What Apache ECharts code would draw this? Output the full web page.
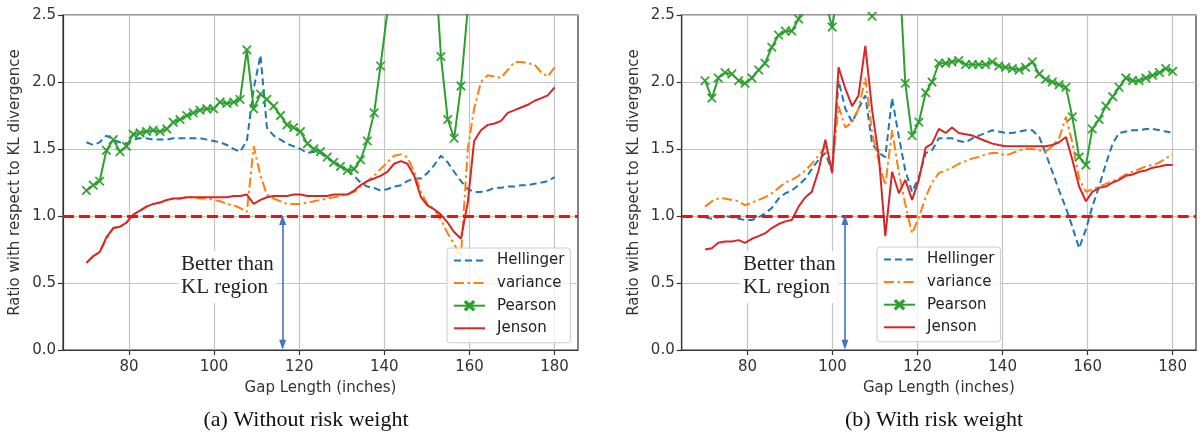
<!DOCTYPE html>
<html><head><meta charset="utf-8">
<script src="https://cdn.jsdelivr.net/npm/echarts@6/dist/echarts.min.js"></script>
<style>html,body{margin:0;padding:0;background:#fff}#c{width:1202px;height:433px}</style>
</head><body><div id="c"></div><script>
// Gap lengths (inches)
const xs = [70,71.6,73.1,74.7,76.3,77.9,79.4,81,82.6,84.1,85.7,87.3,88.9,90.4,92,93.6,95.1,96.7,98.3,99.9,
101.4,103,104.6,106.1,107.7,109.3,110.9,112.4,114,115.6,117.1,118.7,120.3,121.9,123.4,125,126.6,128.1,129.7,131.3,
132.9,134.4,136,137.6,139.1,140.7,142.3,143.9,145.4,147,148.6,150.1,151.7,153.3,154.9,156.4,158,159.6,161.1,162.7,
164.3,165.9,167.4,169,170.6,172.1,173.7,175.3,176.9,178.4,180];

// (a) Without risk weight
const hellA = [1.55,1.53,1.55,1.60,1.57,1.55,1.54,1.57,1.58,1.58,1.57,1.57,1.57,1.58,1.58,1.58,1.58,1.58,1.57,1.56,
1.55,1.53,1.50,1.48,1.56,1.95,2.20,1.66,1.60,1.57,1.54,1.52,1.50,1.47,1.48,1.47,1.43,1.40,1.37,1.34,
1.30,1.25,1.22,1.21,1.19,1.20,1.22,1.23,1.26,1.28,1.28,1.32,1.38,1.45,1.40,1.33,1.26,1.20,1.18,1.18,
1.19,1.21,1.21,1.22,1.22,1.23,1.23,1.24,1.25,1.26,1.29];
const varA = [0.65,0.70,0.73,0.83,0.91,0.92,0.95,1.01,1.04,1.07,1.09,1.10,1.12,1.13,1.13,1.14,1.14,1.13,1.13,1.12,
1.11,1.09,1.08,1.06,1.03,1.52,1.30,1.16,1.13,1.11,1.09,1.09,1.09,1.10,1.11,1.12,1.13,1.14,1.15,1.16,
1.18,1.22,1.26,1.30,1.35,1.40,1.45,1.46,1.44,1.33,1.18,1.09,1.05,0.97,0.87,0.79,0.70,1.50,1.80,2.00,
2.05,2.04,2.03,2.09,2.15,2.15,2.14,2.13,2.07,2.04,2.11];
const pearA = [1.19,1.23,1.26,1.49,1.57,1.48,1.52,1.61,1.62,1.63,1.64,1.63,1.65,1.70,1.72,1.75,1.77,1.79,1.80,1.80,
1.85,1.84,1.85,1.87,2.24,1.80,1.91,1.87,1.82,1.75,1.68,1.66,1.63,1.54,1.50,1.48,1.44,1.40,1.37,1.34,
1.35,1.42,1.56,1.77,2.12,2.52,3.0,3.3,3.5,3.6,3.5,3.3,3.0,2.19,1.72,1.58,1.97,2.55,3.0,3.2,
3.3,3.3,3.4,3.4,3.4,3.5,3.5,3.5,3.5,3.5,3.5];
const jenA = [0.65,0.70,0.73,0.84,0.91,0.92,0.95,1.01,1.04,1.07,1.09,1.10,1.12,1.13,1.13,1.14,1.14,1.14,1.14,1.14,
1.14,1.14,1.15,1.15,1.16,1.09,1.12,1.14,1.15,1.15,1.15,1.16,1.16,1.15,1.15,1.15,1.15,1.16,1.16,1.16,
1.19,1.23,1.26,1.28,1.30,1.33,1.39,1.41,1.39,1.30,1.14,1.08,1.05,1.01,0.95,0.88,0.83,1.10,1.56,1.64,
1.68,1.69,1.71,1.77,1.79,1.81,1.83,1.86,1.88,1.90,1.96];

// (b) With risk weight
const hellB = [0.99,0.98,0.99,1.00,0.99,0.98,0.97,0.97,0.99,1.02,1.06,1.13,1.17,1.19,1.23,1.28,1.35,1.42,1.47,1.33,
2.01,1.80,1.70,1.80,1.90,1.54,1.47,1.44,1.88,1.59,1.34,1.18,1.29,1.47,1.49,1.58,1.58,1.58,1.56,1.55,
1.58,1.60,1.62,1.64,1.63,1.62,1.62,1.63,1.64,1.64,1.59,1.47,1.33,1.19,1.06,0.92,0.76,0.90,1.07,1.22,
1.39,1.54,1.62,1.63,1.64,1.64,1.65,1.65,1.64,1.63,1.62];
const varB = [1.07,1.11,1.13,1.13,1.12,1.11,1.08,1.10,1.12,1.14,1.17,1.21,1.25,1.27,1.30,1.34,1.39,1.45,1.52,1.34,
1.82,1.66,1.70,1.80,2.03,1.62,1.40,1.23,1.64,1.32,1.09,0.87,0.99,1.14,1.25,1.32,1.34,1.36,1.39,1.41,
1.43,1.44,1.46,1.47,1.47,1.45,1.47,1.49,1.50,1.50,1.49,1.48,1.52,1.58,1.74,1.55,1.28,1.18,1.20,1.22,
1.24,1.26,1.28,1.31,1.33,1.35,1.37,1.38,1.40,1.43,1.46];
const pearB = [2.01,1.88,2.03,2.07,2.06,2.01,1.99,2.03,2.09,2.14,2.26,2.35,2.38,2.38,2.47,2.6,2.7,2.7,2.6,2.41,
2.7,2.9,3.0,2.9,2.7,2.49,2.8,3.0,3.0,2.9,1.99,1.60,1.70,1.92,2.00,2.14,2.14,2.15,2.16,2.13,
2.13,2.13,2.13,2.15,2.12,2.11,2.10,2.09,2.11,2.15,2.06,2.02,2.00,1.98,1.96,1.74,1.44,1.38,1.65,1.72,
1.82,1.89,1.96,2.03,2.01,2.01,2.03,2.05,2.07,2.10,2.08];
const jenB = [0.75,0.76,0.80,0.81,0.81,0.82,0.80,0.83,0.85,0.87,0.91,0.94,0.96,0.97,1.07,1.14,1.18,1.34,1.57,1.32,
2.11,1.95,1.82,1.90,2.27,1.79,1.44,0.85,1.33,1.17,1.27,1.12,1.27,1.51,1.54,1.65,1.62,1.66,1.62,1.61,
1.60,1.58,1.56,1.54,1.53,1.52,1.52,1.52,1.52,1.52,1.52,1.52,1.53,1.55,1.59,1.42,1.22,1.11,1.18,1.21,
1.22,1.25,1.27,1.30,1.31,1.33,1.34,1.36,1.37,1.38,1.38];

const xTicks = [80,100,120,140,160,180];
const names = ['Hellinger','variance','Pearson','Jenson'];
const klLevel = 1.0;
const arrowA = {x:116.1, top:0.97, bottom:0.04};
const arrowB = {x:102.9, top:0.97, bottom:0.04};
const captions = ['(a) Without risk weight','(b) With risk weight'];
const noteText = 'Better than\nKL region';

const styles = {
  Hellinger:{color:'#1f77b4', type:[7,4], width:2},
  variance:{color:'#ff7f0e', type:[10,3.5,2.5,3.5], width:2},
  Pearson:{color:'#2ca02c', type:'solid', width:2},
  Jenson:{color:'#d62728', type:'solid', width:2}
};
const xSym = 'path://M1,0 L5,4 L9,0 L10,1 L6,5 L10,9 L9,10 L5,6 L1,10 L0,9 L4,5 L0,1 Z';
const FONT = 'DejaVu Sans';

function mkSeries(name, arr, gi, arrow){
  const st = styles[name];
  const s = {
    name, type:'line', xAxisIndex:gi, yAxisIndex:gi,
    data: xs.map((x,i)=>[x, arr[i]]),
    lineStyle:{color:st.color, type:st.type, width:st.width},
    itemStyle:{color:st.color, borderColor:st.color, borderWidth:0.6},
    symbol: name==='Pearson' ? xSym : 'none',
    symbolSize: 9, showSymbol: name==='Pearson',
    clip:true, animation:false, silent:true, z:2
  };
  if(name==='Jenson'){
    s.markLine = {
      silent:true, animation:false, symbol:['none','none'], label:{show:false},
      data:[
        {yAxis:klLevel, lineStyle:{color:'#f01010', type:[11,5], width:3}},
        [{coord:[arrow.x, arrow.top], symbol:'triangle', symbolSize:[7,10], lineStyle:{color:'#4472c4', type:'solid', width:1.6}},
         {coord:[arrow.x, arrow.bottom], symbol:'triangle', symbolSize:[7,10]}]
      ]
    };
  }
  return s;
}

function axisX(gi){
  return {
    type:'value', gridIndex:gi, min:64.5, max:185.5,
    name:'Gap Length (inches)', nameLocation:'middle', nameGap:31,
    nameTextStyle:{fontFamily:FONT, fontSize:15, color:'#333'},
    axisLine:{show:true, lineStyle:{color:'#333', width:1.2}},
    axisTick:{show:true, customValues:xTicks, length:5, lineStyle:{color:'#333', width:1.2}},
    axisLabel:{customValues:xTicks, margin:10, fontFamily:FONT, fontSize:15, color:'#333'},
    splitLine:{show:true, lineStyle:{color:'#c4c4c4', width:1.2}}
  };
}
function axisY(gi){
  return {
    type:'value', gridIndex:gi, min:0, max:2.5, interval:0.5,
    name:'Ratio with respect to KL divergence', nameLocation:'middle', nameGap:40,
    nameTextStyle:{fontFamily:FONT, fontSize:15, color:'#333'},
    axisLine:{show:true, lineStyle:{color:'#333', width:1.2}},
    axisTick:{show:true, length:5, lineStyle:{color:'#333', width:1.2}},
    axisLabel:{margin:7, fontFamily:FONT, fontSize:15, color:'#333', formatter:v=>v.toFixed(1)},
    splitLine:{show:true, lineStyle:{color:'#c4c4c4', width:1.2}}
  };
}
function legend(left, top){
  return {
    data:names.map(n => n==='Pearson' ? {name:n} : {name:n, itemStyle:{opacity:0}}),
    orient:'vertical', left, top, padding:[5,6,7,6],
    itemWidth:31, itemHeight:11, itemGap:7.6,
    backgroundColor:'rgba(255,255,255,0.8)', borderColor:'#cccccc', borderWidth:1, borderRadius:3,
    textStyle:{fontFamily:FONT, fontSize:15, color:'#222', padding:[0,0,0,7]},
    selectedMode:false
  };
}
function note(left){
  return {type:'text', left, top:251, z:50,
    style:{text:noteText, fontFamily:'Liberation Serif', fontSize:21, lineHeight:23, fill:'#222',
      backgroundColor:'#fff', padding:[2,3,4,3]}};
}

const chart = echarts.init(document.getElementById('c'), null, {renderer:'canvas'});
chart.setOption({
  animation:false,
  backgroundColor:'#fff',
  grid:[
    {left:63, top:15, width:515, height:335, show:true, borderColor:'#333', borderWidth:1.2, backgroundColor:'transparent'},
    {left:681.7, top:15, width:514.3, height:335, show:true, borderColor:'#333', borderWidth:1.2, backgroundColor:'transparent'}
  ],
  xAxis:[axisX(0), axisX(1)],
  yAxis:[axisY(0), axisY(1)],
  legend:[legend(447,248), legend(877,247)],
  series:[
    mkSeries('Hellinger', hellA, 0), mkSeries('variance', varA, 0), mkSeries('Pearson', pearA, 0), mkSeries('Jenson', jenA, 0, arrowA),
    mkSeries('Hellinger', hellB, 1), mkSeries('variance', varB, 1), mkSeries('Pearson', pearB, 1), mkSeries('Jenson', jenB, 1, arrowB)
  ],
  graphic:[
    note(178), note(740),
    {type:'text', x:306, y:420, style:{text:captions[0], fontFamily:'Liberation Serif', fontSize:22, fill:'#111', align:'center', verticalAlign:'middle'}},
    {type:'text', x:934, y:420, style:{text:captions[1], fontFamily:'Liberation Serif', fontSize:22, fill:'#111', align:'center', verticalAlign:'middle'}}
  ]
});
</script></body></html>
